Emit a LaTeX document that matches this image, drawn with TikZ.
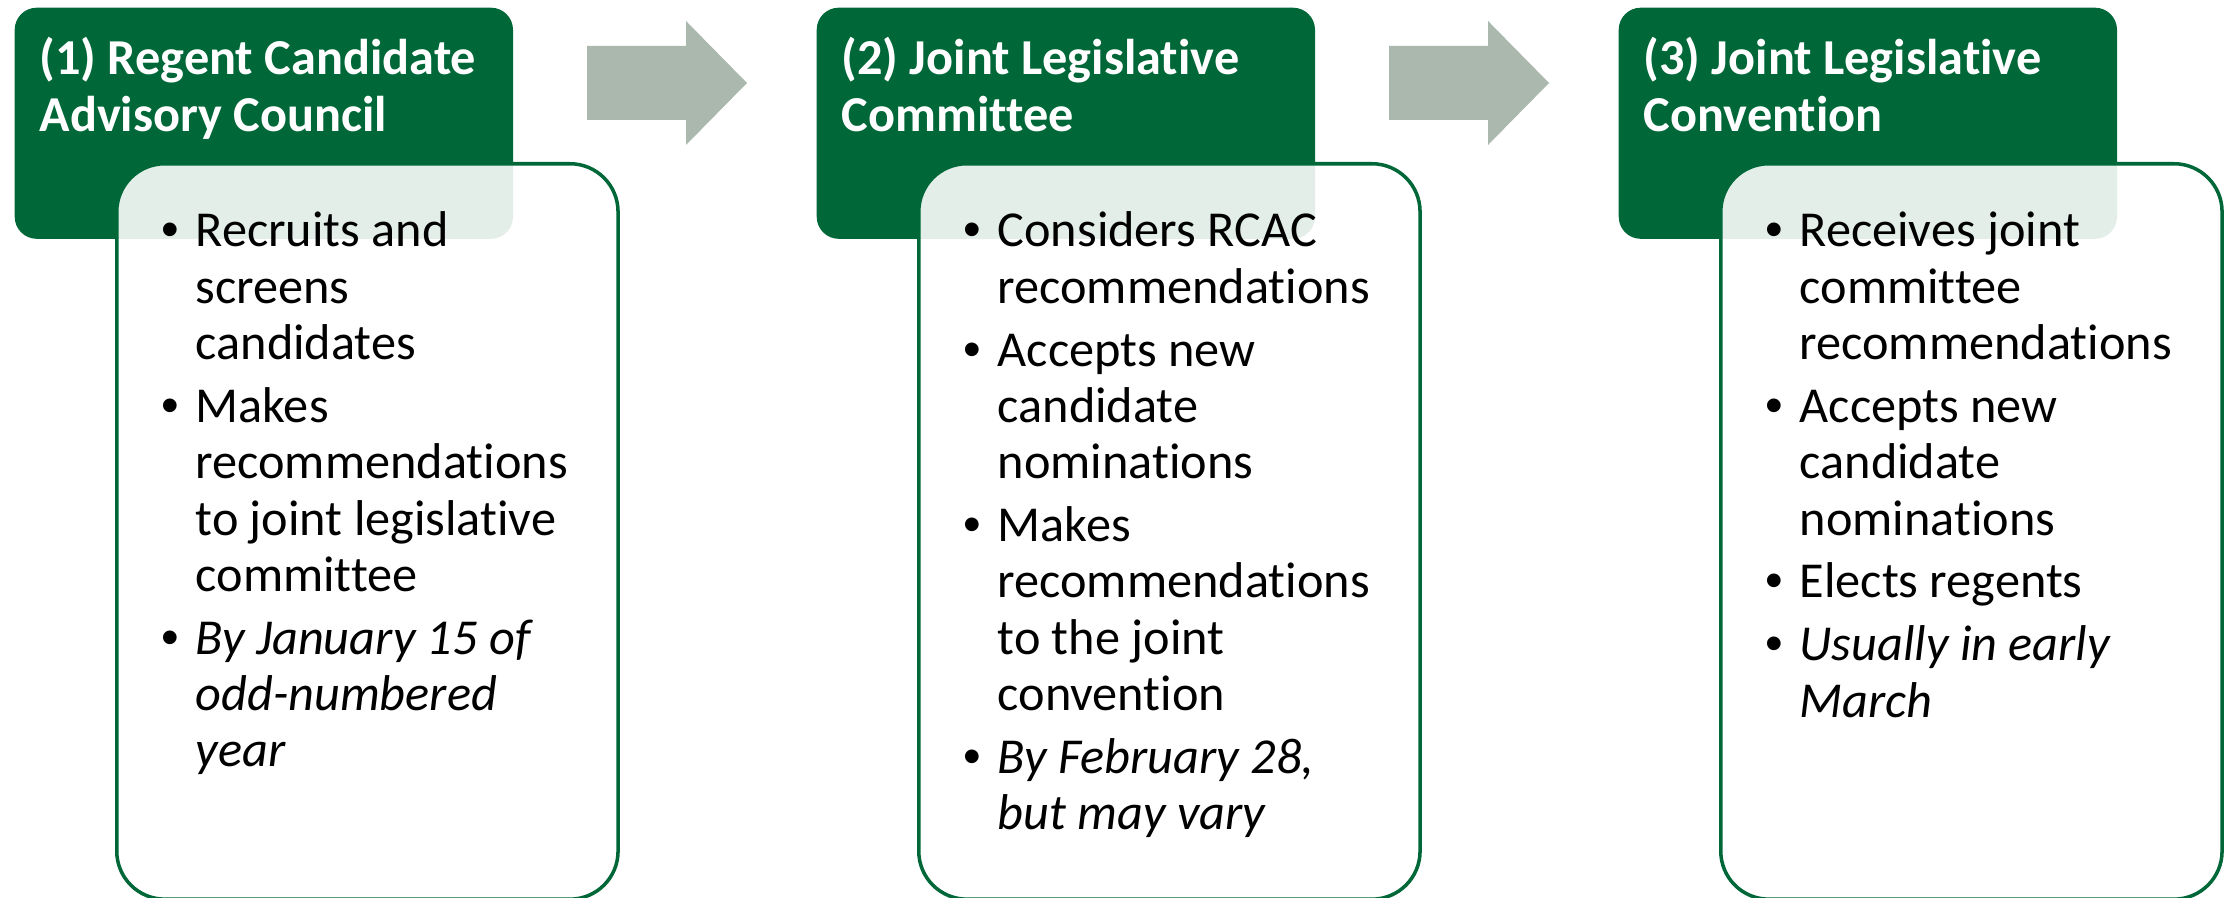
\documentclass[tikz,border=0pt]{standalone}
\usepackage{fontspec}
\setmainfont{Carlito}[Ligatures=NoCommon]
\newfontfamily\bulletfont{Liberation Sans}
\usetikzlibrary{positioning}

\definecolor{rcgreen}{RGB}{0,104,56}
\definecolor{stepgrey}{RGB}{171,184,173}

% one bullet, centred in the label column
\newcommand{\bul}{\makebox[14.2pt][c]{\bulletfont\textbullet}}
% lines stacked from the first baseline down
\newcommand{\steplines}[1]{\begin{tabular}[t]{@{}l@{}l@{}}#1\end{tabular}}

\begin{document}
\begin{tikzpicture}[
        x=0.01cm, y=-0.01cm,
        header/.style={rectangle, fill=rcgreen, rounded corners=0.22cm, minimum width=4.98cm, minimum height=2.31cm, anchor=north west, inner sep=0pt},
        body/.style={rectangle, draw=rcgreen, line width=1pt, fill=white, fill opacity=0.89, rounded corners=0.48cm, minimum width=5.01cm, minimum height=7.35cm, anchor=north west, inner sep=0pt},
        title/.style={anchor=base west, inner sep=0pt, text=white, font=\fontsize{14.3}{16.2}\selectfont\bfseries},
        items/.style={anchor=base west, inner sep=0pt, font=\fontsize{14.3}{16}\selectfont},
        flow/.style={fill=stepgrey}
    ]
        \useasboundingbox (0,0) rectangle (2231,898);

        % Step 1
        \node[header] (h1) at (14,7) {};
        \node[body] (b1) at (115,162) {};
        \node[title] (t1) at (39,75) {\steplines{(1) Regent Candidate\\Advisory Council}};
        \node[items] (l1) at (145,247) {\steplines{%
            \bul & Recruits and\\ & screens\\ & candidates\\[1.9pt]
            \bul & Makes\\ & recommendations\\ & to joint legislative\\ & committee\\[1.9pt]
            \bul & \itshape By January 15 of\\ & \itshape odd-numbered\\ & \itshape year}};

        % Step 2
        \node[header] (h2) at (816,7) {};
        \node[body] (b2) at (917,162) {};
        \node[title] (t2) at (841,75) {\steplines{(2) Joint Legislative\\Committee}};
        \node[items] (l2) at (947,247) {\steplines{%
            \bul & Considers RCAC\\ & recommendations\\[1.9pt]
            \bul & Accepts new\\ & candidate\\ & nominations\\[1.9pt]
            \bul & Makes\\ & recommendations\\ & to the joint\\ & convention\\[1.9pt]
            \bul & \itshape By February 28,\\ & \itshape but may vary}};

        % Step 3
        \node[header] (h3) at (1618,7) {};
        \node[body] (b3) at (1719,162) {};
        \node[title] (t3) at (1643,75) {\steplines{(3) Joint Legislative\\Convention}};
        \node[items] (l3) at (1749,247) {\steplines{%
            \bul & Receives joint\\ & committee\\ & recommendations\\[1.9pt]
            \bul & Accepts new\\ & candidate\\ & nominations\\[1.9pt]
            \bul & Elects regents\\[1.9pt]
            \bul & \itshape Usually in early\\ & \itshape March}};

        % arrows between the steps
        \fill[flow, shift={(587,83)}] (0,-37) -- (99,-37) -- (99,-62) -- (160,0) -- (99,62) -- (99,37) -- (0,37) -- cycle;
        \fill[flow, shift={(1389,83)}] (0,-37) -- (99,-37) -- (99,-62) -- (160,0) -- (99,62) -- (99,37) -- (0,37) -- cycle;
    \end{tikzpicture}
\end{document}
